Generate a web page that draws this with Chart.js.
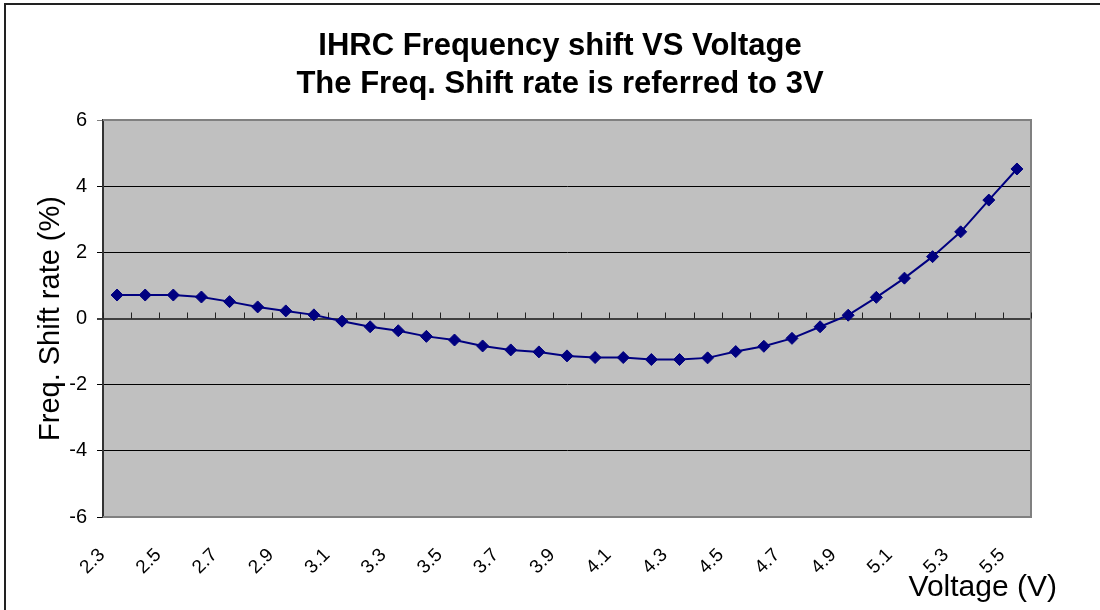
<!DOCTYPE html>
<html>
<head>
<meta charset="utf-8">
<script src="https://cdn.jsdelivr.net/npm/chart.js@4"></script>
<style>
  html, body { margin: 0; padding: 0; background: #fff; }
  canvas { display: block; }
</style>
</head>
<body>
<canvas id="myChart" width="1100" height="610"></canvas>
<script>
// voltage steps (V) and shift rate (%)
const voltages = ['2.3','2.4','2.5','2.6','2.7','2.8','2.9','3.0','3.1','3.2','3.3',
  '3.4','3.5','3.6','3.7','3.8','3.9','4.0','4.1','4.2','4.3','4.4','4.5',
  '4.6','4.7','4.8','4.9','5.0','5.1','5.2','5.3','5.4','5.5']
const shiftRate = [0.71, 0.71, 0.71, 0.65, 0.51, 0.35, 0.23, 0.11, -0.08, -0.25, -0.37,
  -0.54, -0.65, -0.83, -0.95, -1.01, -1.13, -1.18, -1.18, -1.24, -1.24, -1.19, -1.00,
  -0.84, -0.60, -0.25, 0.10, 0.64, 1.22, 1.87, 2.62, 3.58, 4.52]
const titleLines = ['IHRC Frequency shift VS Voltage', 'The Freq. Shift rate is referred to 3V']
const yTitle = 'Freq. Shift rate (%)'
const xTitle = 'Voltage (V)'

const FONT = 'Arial, "Liberation Sans", sans-serif'

// grey plot area + outer frame, drawn before datasets
const plotBg = {
  id: 'plotBg',
  beforeDraw(chart) {
    const c = chart.ctx, a = chart.chartArea
    c.save()
    c.fillStyle = '#fff'
    c.fillRect(0, 0, chart.width, chart.height)
    c.strokeStyle = '#222'
    c.lineWidth = 2
    c.beginPath()
    c.moveTo(5, chart.height)
    c.lineTo(5, 4)
    c.lineTo(chart.width, 4)
    c.stroke()
    c.fillStyle = '#c0c0c0'
    c.fillRect(a.left, a.top, a.right - a.left, a.bottom - a.top)
    c.restore()
  },
  beforeDatasetsDraw(chart) {
    const c = chart.ctx, a = chart.chartArea
    const xs = chart.scales.x, ys = chart.scales.y
    c.save()
    c.strokeStyle = '#808080'
    c.lineWidth = 2
    c.beginPath()
    c.moveTo(a.left, a.top)
    c.lineTo(a.right, a.top)
    c.lineTo(a.right, a.bottom)
    c.lineTo(a.left, a.bottom)
    c.stroke()
    // category ticks on the zero line
    const y0 = ys.getPixelForValue(0)
    c.strokeStyle = '#222'
    c.lineWidth = 1
    c.beginPath()
    for (let i = 0; i <= voltages.length; i++) {
      let px
      if (i === 0) px = a.left
      else if (i === voltages.length) px = a.right
      else px = (xs.getPixelForValue(i - 1) + xs.getPixelForValue(i)) / 2
      px = Math.round(px) + 0.5
      c.moveTo(px, y0)
      c.lineTo(px, y0 - 6)
    }
    c.stroke()
    c.restore()
  },
  afterDraw(chart) {
    const c = chart.ctx, a = chart.chartArea
    c.save()
    c.fillStyle = '#000'
    c.font = '30px ' + FONT
    c.textAlign = 'right'
    c.textBaseline = 'middle'
    c.fillText(xTitle, a.right + 26, 588)
    c.restore()
  }
}

const ctx = document.getElementById('myChart').getContext('2d')
const myChart = new Chart(ctx, {
  type: 'line',
  data: {
    labels: voltages,
    datasets: [{
      label: 'shift',
      data: shiftRate,
      borderColor: '#000080',
      backgroundColor: '#000080',
      borderWidth: 2,
      pointStyle: 'rectRot',
      pointRadius: 6,
      pointBorderWidth: 1,
      tension: 0
    }]
  },
  options: {
    responsive: false,
    animation: false,
    layout: { padding: { left: 20, right: 0, top: 0, bottom: 0 } },
    plugins: {
      legend: { display: false },
      tooltip: { enabled: false },
      title: {
        display: true,
        text: titleLines,
        color: '#000',
        font: { family: FONT, size: 31, weight: 'bold', lineHeight: 1.226 },
        padding: { top: 27, bottom: 17 }
      }
    },
    scales: {
      x: {
        offset: true,
        grid: { display: false },
        border: { display: false },
        ticks: {
          autoSkip: false,
          minRotation: 45,
          maxRotation: 45,
          padding: 19,
          labelOffset: -15,
          color: '#000',
          font: { family: FONT, size: 19 },
          callback: function(v, i) { return i % 2 === 0 ? voltages[i] : '' }
        },
        afterFit(scale) { scale.height = 93 }
      },
      y: {
        min: -6,
        max: 6,
        ticks: {
          stepSize: 2,
          padding: 10,
          color: '#000',
          font: { family: FONT, size: 20 }
        },
        grid: {
          tickLength: 6,
          color: ctx => ctx.tick && ctx.tick.value === 6 ? '#808080' : (ctx.tick && ctx.tick.value === 0 ? '#404040' : '#000'),
          lineWidth: ctx => ctx.tick && ctx.tick.value === 0 ? 2 : 1
        },
        border: { color: '#333', width: 2 },
        title: {
          display: true,
          text: yTitle,
          color: '#000',
          font: { family: FONT, size: 29 },
          padding: { top: 14, bottom: 0 }
        },
        afterFit(scale) { scale.width = 83 }
      },
      // empty right axis, only reserves the white margin on the right
      yRight: {
        position: 'right',
        min: -6,
        max: 6,
        grid: { display: false },
        border: { display: false },
        ticks: { display: false },
        afterFit(scale) { scale.width = 69 }
      }
    }
  },
  plugins: [plotBg]
})
</script>
</body>
</html>
